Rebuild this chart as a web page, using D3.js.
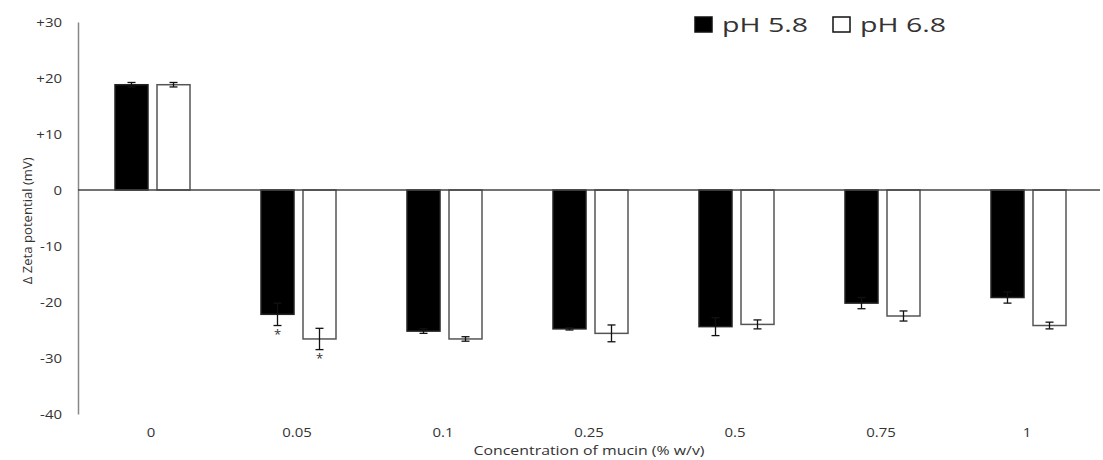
<!DOCTYPE html>
<html>
<head>
<meta charset="utf-8">
<script src="https://cdn.jsdelivr.net/npm/d3@7"></script>
<style>
  body { margin: 0; background: #fff; }
  svg text { font-family: "Open Sans", Lato, sans-serif; fill: #333; }
</style>
</head>
<body>
<svg id="chart" width="1103" height="460"></svg>
<script>
// Mucin concentration (% w/v) on the x axis
const categories = ["0", "0.05", "0.1", "0.25", "0.5", "0.75", "1"];
const seriesNames = ["pH 5.8", "pH 6.8"];
// Change in zeta potential (mV) and standard deviations
const ph58 = [18.8, -22.2, -25.2, -24.8, -24.4, -20.2, -19.2];
const ph58Err = [0.4, 2.0, 0.4, 0.2, 1.6, 1.0, 1.0];
const ph68 = [18.8, -26.6, -26.6, -25.6, -24.0, -22.5, -24.2];
const ph68Err = [0.4, 1.9, 0.4, 1.5, 0.8, 0.9, 0.6];
const significant58 = [false, true, false, false, false, false, false];
const significant68 = [false, true, false, false, false, false, false];
const yTicks = [30, 20, 10, 0, -10, -20, -30, -40];

const svg = d3.select("#chart");
const margin = { left: 78, right: 3, top: 22, bottom: 46 };
const W = 1103, H = 460;

// widen glyphs along the baseline by factor k
function widen(sel, k) {
  sel.each(function () {
    const len = this.getComputedTextLength();
    d3.select(this).attr("textLength", len * k).attr("lengthAdjust", "spacingAndGlyphs");
  });
}

const x = d3.scaleBand().domain(categories).range([margin.left, W - margin.right]);
const y = d3.scaleLinear().domain([-40, 30]).range([H - margin.bottom, margin.top]);

const rows = categories.map((c, i) => ([
  { c, s: seriesNames[0], v: ph58[i], e: ph58Err[i], sig: significant58[i] },
  { c, s: seriesNames[1], v: ph68[i], e: ph68Err[i], sig: significant68[i] }
])).flat();

// y axis
const yAxis = d3.axisLeft(y).tickValues(yTicks).tickSize(0).tickPadding(16)
  .tickFormat(d => d > 0 ? "+" + d : String(d));
const ya = svg.append("g").attr("transform", `translate(${margin.left},0)`).call(yAxis);
ya.select(".domain").attr("stroke", "#888").attr("stroke-width", 1.5);
ya.selectAll("text").attr("font-size", 13).attr("fill", "#333").attr("font-family", "Open Sans");
widen(ya.selectAll("text"), 1.15);

// bars
const bw = 33;
const bx = d => d.s === seriesNames[0] ? x(d.c) + x.bandwidth() / 2 - 36 : x(d.c) + x.bandwidth() / 2 + 6;
svg.append("g").selectAll("rect").data(rows).join("rect")
  .attr("x", bx)
  .attr("width", bw)
  .attr("y", d => Math.min(y(d.v), y(0)))
  .attr("height", d => Math.abs(y(d.v) - y(0)))
  .attr("fill", d => d.s === seriesNames[0] ? "#000" : "#fff")
  .attr("stroke", d => d.s === seriesNames[0] ? "#222" : "#555")
  .attr("stroke-width", 1.5);

// zero line
svg.append("line")
  .attr("x1", margin.left).attr("x2", W - margin.right)
  .attr("y1", y(0)).attr("y2", y(0))
  .attr("stroke", "#444").attr("stroke-width", 1.5);

// error bars
const cx = d => bx(d) + bw / 2;
const eg = svg.append("g").attr("stroke", "#111").attr("stroke-width", 1.3);
rows.forEach(d => {
  const lo = y(d.v - d.e), hi = y(d.v + d.e);
  eg.append("line").attr("x1", cx(d)).attr("x2", cx(d)).attr("y1", lo).attr("y2", hi);
  eg.append("line").attr("x1", cx(d) - 4).attr("x2", cx(d) + 4).attr("y1", lo).attr("y2", lo);
  eg.append("line").attr("x1", cx(d) - 4).attr("x2", cx(d) + 4).attr("y1", hi).attr("y2", hi);
});

// significance markers
svg.append("g").selectAll("text").data(rows.filter(d => d.sig)).join("text")
  .attr("x", d => cx(d))
  .attr("y", d => y(d.v - d.e) + 13)
  .attr("text-anchor", "middle")
  .attr("font-size", 13)
  .attr("fill", "#444")
  .text("*");

// x labels
const xl = svg.append("g").selectAll("text").data(categories).join("text")
  .attr("x", d => x(d) + x.bandwidth() / 2)
  .attr("y", 437)
  .attr("text-anchor", "middle")
  .attr("font-size", 13)
  .text(d => d);
widen(xl, 1.15);

// axis titles
const xt = svg.append("text")
  .attr("x", 589).attr("y", 455)
  .attr("text-anchor", "middle").attr("font-size", 13)
  .text("Concentration of mucin (% w/v)");
xt.attr("textLength", 231).attr("lengthAdjust", "spacingAndGlyphs");
const yt = svg.append("text")
  .attr("transform", `translate(32,${y(-5.5)}) rotate(-90)`)
  .attr("text-anchor", "middle").attr("font-size", 12.5)
  .text("Δ Zeta potential (mV)");
yt.attr("textLength", 127).attr("lengthAdjust", "spacingAndGlyphs");

// legend
const legend = svg.append("g");
const lx = [695, 833];
seriesNames.forEach((s, i) => {
  legend.append("rect").attr("x", lx[i]).attr("y", 17).attr("width", 17).attr("height", 15)
    .attr("fill", i === 0 ? "#000" : "#fff").attr("stroke", "#111").attr("stroke-width", 1.5);
  legend.append("text").attr("x", lx[i] + 27).attr("y", 32).attr("font-size", 20).attr("fill", "#111")
    .attr("textLength", 86).attr("lengthAdjust", "spacingAndGlyphs").text(s);
});
</script>
</body>
</html>
